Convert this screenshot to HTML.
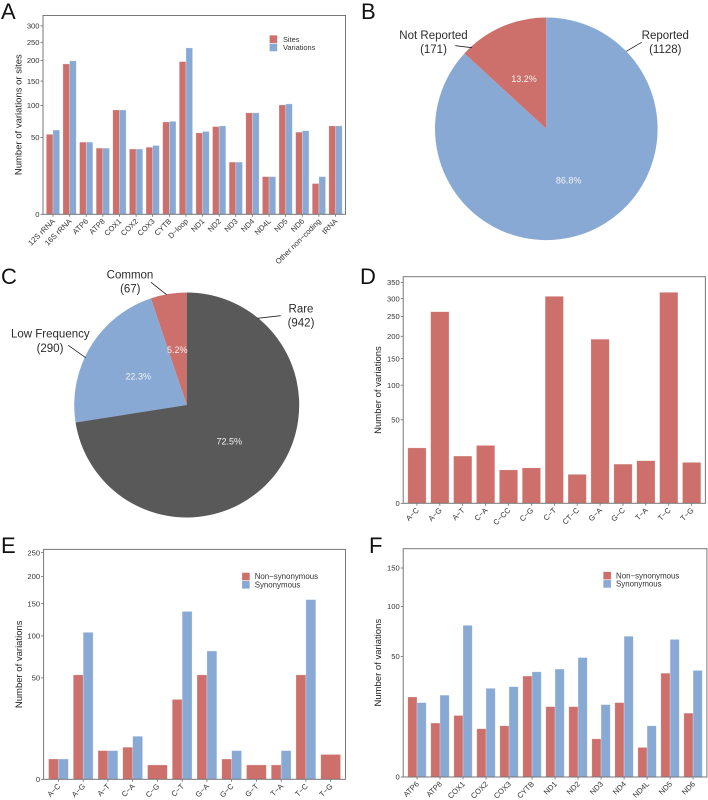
<!DOCTYPE html>
<html lang="en">
<head>
<meta charset="utf-8">
<title>Mitochondrial variation summary</title>
<style>
html,body{margin:0;padding:0;background:#fff;width:708px;height:800px;overflow:hidden}
svg{display:block;font-family:"Liberation Sans",Arial,sans-serif}
.panel{font-size:22px;fill:#111}
.pie-label{font-size:11.5px;fill:#2b2b2b;text-anchor:middle}
.pct{font-size:9px;fill:#f2f2f2;text-anchor:middle}
.leader{stroke:#222;stroke-width:.8;fill:none}
</style>
</head>
<body>
<svg id="fig" xmlns="http://www.w3.org/2000/svg" width="708" height="800" viewBox="0 0 708 800">
  <rect width="708" height="800" fill="#fff"/>
  <text class="panel" x="1" y="19">A</text>
  <text class="panel" x="361" y="19">B</text>
  <text class="panel" x="1" y="284">C</text>
  <text class="panel" x="360" y="284">D</text>
  <text class="panel" x="1" y="553">E</text>
  <text class="panel" x="369" y="553">F</text>
  <g id="pieB"></g>
  <g id="pieC"></g>
  <g>
    <path class="leader" d="M455.3 45.7L472 47.7"/>
    <path class="leader" d="M641.7 42.3L626.3 51.3"/>
    <text class="pie-label" x="433.5" y="39">Not Reported</text>
    <text class="pie-label" x="433.5" y="53">(171)</text>
    <text class="pie-label" x="665.3" y="39">Reported</text>
    <text class="pie-label" x="665.3" y="53">(1128)</text>
    <text class="pct" x="524" y="82">13.2%</text>
    <text class="pct" x="568.7" y="183.3">86.8%</text>
  </g>
  <g>
    <path class="leader" d="M151 282.3L166.7 294.7"/>
    <path class="leader" d="M280.7 315.7L257.3 318.3"/>
    <path class="leader" d="M68.3 345.3L85.7 357.7"/>
    <text class="pie-label" x="130" y="278.3">Common</text>
    <text class="pie-label" x="130.3" y="292.3">(67)</text>
    <text class="pie-label" x="301" y="312.3">Rare</text>
    <text class="pie-label" x="301" y="326.3">(942)</text>
    <text class="pie-label" x="50.3" y="337.7">Low Frequency</text>
    <text class="pie-label" x="50" y="352">(290)</text>
    <text class="pct" x="177.3" y="353">5.2%</text>
    <text class="pct" x="138.3" y="379.3">22.3%</text>
    <text class="pct" x="229.3" y="444.7">72.5%</text>
  </g>
  <g id="chartA"></g>
  <g id="chartD"></g>
  <g id="chartE"></g>
  <g id="chartF"></g>
</svg>
<script>
const RED = '#cd6f6a', BLUE = '#89a9d5', DARK = '#595959';

// Panel A
const regionCategories = ['12S rRNA','16S rRNA','ATP6','ATP8','COX1','COX2','COX3','CYTB','D\u2212loop','ND1','ND2','ND3','ND4','ND4L','ND5','ND6','Other non\u2212coding','tRNA'];
const regionSites = [54,191,44,37,92,36,38,72,197,56,65,23,87,12,101,57,8,66];
const regionVariations = [60,199,44,37,92,36,40,73,234,58,66,23,87,12,103,59,12,66];
const regionTicks = [0,50,100,150,200,250,300];

// Panel D
const substitutionCategoriesD = ['A\u2212C','A\u2212G','A\u2212T','C\u2212A','C\u2212CC','C\u2212G','C\u2212T','CT\u2212C','G\u2212A','G\u2212C','T\u2212A','T\u2212C','T\u2212G'];
const substitutionCountsD = [22,263,16,24,8,9,307,6,193,11,13,319,12];
const substitutionTicksD = [0,50,100,150,200,250,300,350];

// Panel E (null = single full-width bar)
const substitutionCategoriesE = ['A\u2212C','A\u2212G','A\u2212T','C\u2212A','C\u2212G','C\u2212T','G\u2212A','G\u2212C','G\u2212T','T\u2212A','T\u2212C','T\u2212G'];
const nonSynonymousE = [2,53,4,5,1,31,53,2,1,1,53,3];
const synonymousE = [2,105,4,9,null,137,80,4,null,4,157,null];
const ticksE = [0,50,100,150,200,250];

// Panel F
const geneCategories = ['ATP6','ATP8','COX1','COX2','COX3','CYTB','ND1','ND2','ND3','ND4','ND4L','ND5','ND6'];
const nonSynonymousF = [22,10,13,8,9,35,17,17,5,19,3,37,14];
const synonymousF = [19,23,79,27,28,38,40,49,18,68,9,65,39];
const ticksF = [0,50,100,150];

// Pies
const reportedLabels = ['Not Reported','Reported'];
const reportedCounts = [171,1128];
const frequencyLabels = ['Common','Low Frequency','Rare'];
const frequencyCounts = [67,290,942];

const NS = 'http://www.w3.org/2000/svg';
function mk(parent, tag, attrs, text) {
  const el = document.createElementNS(NS, tag);
  for (const k in attrs) el.setAttribute(k, attrs[k]);
  if (text !== undefined) el.textContent = text;
  parent.appendChild(el);
  return el;
}
function slug(s) {
  return String(s).toLowerCase().replace(/[^a-z0-9]+/g, '-');
}

function drawBars(root, cfg) {
  const left = cfg.left, right = cfg.right, top = cfg.top, bottom = cfg.bottom;
  const n = cfg.categories.length;
  const step = (right - left) / (n - 1 + 1.2);
  const xScale = i => left + step * (0.6 + i);
  const k = (bottom - top) / Math.sqrt(cfg.maxValue);
  const yScale = v => bottom - k * Math.sqrt(v);
  const groupW = step * 0.8;

  cfg.categories.forEach((cat, i) => {
    const cx = xScale(i);
    cfg.series.forEach((s, si) => {
      const v = s.values[i];
      if (v === null) return;
      const other = cfg.series.length > 1 ? cfg.series[1 - si].values[i] : null;
      const single = other === null;
      const w = single ? groupW : groupW / 2;
      const x = single ? cx - groupW / 2 : cx - groupW / 2 + si * w;
      const rect = mk(root, 'rect', {x: x, y: yScale(v), width: w, height: bottom - yScale(v), fill: s.color, stroke: '#fff', 'stroke-opacity': .4, 'stroke-width': .6});
      
      
    });
    const tick = mk(root, 'line', {x1: cx, x2: cx, y1: bottom, y2: bottom + 2.5, stroke: '#555', 'stroke-width': .7});
    
    
    const tx = cx + 2.5, ty = bottom + 7.5;
    const label = mk(root, 'text', {x: tx, y: ty, transform: 'rotate(-45 ' + tx + ' ' + ty + ')', 'text-anchor': 'end', 'font-size': cfg.tickSize, fill: '#333'}, cat);
    
    
  });

  cfg.ticks.forEach(t => {
    const y = yScale(t);
    const tick = mk(root, 'line', {x1: left - 2.5, x2: left, y1: y, y2: y, stroke: '#555', 'stroke-width': .7});
    
    
    const label = mk(root, 'text', {x: left - 3.5, y: y + 2.7, 'text-anchor': 'end', 'font-size': cfg.tickSize, fill: '#333'}, t);
    
    
  });

  const frame = mk(root, 'rect', {x: left, y: top, width: right - left, height: bottom - top, fill: 'none', stroke: '#777', 'stroke-width': 1});
  
  

  const title = mk(root, 'text', {x: cfg.titleX, y: cfg.titleY, transform: 'rotate(-90 ' + cfg.titleX + ' ' + cfg.titleY + ')', 'text-anchor': 'middle', 'dominant-baseline': 'middle', 'font-size': 9.5, fill: '#222'}, cfg.title);
  
  

  if (cfg.legend) {
    cfg.series.forEach((s, si) => {
      const yKey = cfg.legend.y + si * cfg.legend.gap;
      const key = mk(root, 'rect', {x: cfg.legend.x, y: yKey, width: 7.8, height: 7.8, fill: s.color, stroke: '#fff', 'stroke-opacity': .4, 'stroke-width': .5});
      
      
      const txt = mk(root, 'text', {x: cfg.legend.x + 12.7 + (cfg.legend.extra || 0), y: yKey + 6.6, 'font-size': cfg.legend.size, fill: '#333'}, s.name);
      
      
    });
  }
}

function drawPie(root, labels, counts, colors, cx, cy, r) {
  const total = counts.reduce((a, b) => a + b, 0);
  let cum = 0;
  counts.forEach((c, i) => {
    const a0 = -cum / total * 2 * Math.PI;
    cum += c;
    const a1 = -cum / total * 2 * Math.PI;
    const x0 = cx + r * Math.sin(a0), y0 = cy - r * Math.cos(a0);
    const x1 = cx + r * Math.sin(a1), y1 = cy - r * Math.cos(a1);
    const large = (a0 - a1) > Math.PI ? 1 : 0;
    const slice = mk(root, 'path', {d: 'M' + cx + ' ' + cy + 'L' + x0 + ' ' + y0 + 'A' + r + ' ' + r + ' 0 ' + large + ' 0 ' + x1 + ' ' + y1 + 'Z', fill: colors[i]});
    
    
  });
}

drawPie(document.getElementById('pieB'), reportedLabels, reportedCounts, [RED, BLUE], 546.3, 128.8, 111.3);
drawPie(document.getElementById('pieC'), frequencyLabels, frequencyCounts, [RED, BLUE, DARK], 186.7, 405, 112.5);

drawBars(document.getElementById('chartA'), {
  left: 43, right: 345.5, top: 15.5, bottom: 214.3, maxValue: 334,
  categories: regionCategories,
  series: [{name: 'Sites', color: RED, values: regionSites}, {name: 'Variations', color: BLUE, values: regionVariations}],
  ticks: regionTicks, tickSize: 7.6, title: 'Number of variations or sites', titleX: 19, titleY: 114.7,
  legend: {x: 269.5, y: 35.3, gap: 8.3, size: 7.4, extra: 0.8}
});
drawBars(document.getElementById('chartD'), {
  left: 403.2, right: 705.4, top: 276.7, bottom: 503.3, maxValue: 368,
  categories: substitutionCategoriesD,
  series: [{name: 'Variations', color: RED, values: substitutionCountsD}],
  ticks: substitutionTicksD, tickSize: 7.6, title: 'Number of variations', titleX: 378.7, titleY: 390
});
drawBars(document.getElementById('chartE'), {
  left: 43.6, right: 345.5, top: 549.4, bottom: 779.3, maxValue: 257,
  categories: substitutionCategoriesE,
  series: [{name: 'Non\u2212synonymous', color: RED, values: nonSynonymousE}, {name: 'Synonymous', color: BLUE, values: synonymousE}],
  ticks: ticksE, tickSize: 7.6, title: 'Number of variations', titleX: 19.3, titleY: 664.3,
  legend: {x: 242, y: 572.6, gap: 8.3, size: 7.9}
});
drawBars(document.getElementById('chartF'), {
  left: 403.2, right: 706.9, top: 548.7, bottom: 777, maxValue: 179,
  categories: geneCategories,
  series: [{name: 'Non\u2212synonymous', color: RED, values: nonSynonymousF}, {name: 'Synonymous', color: BLUE, values: synonymousF}],
  ticks: ticksF, tickSize: 7.6, title: 'Number of variations', titleX: 378.7, titleY: 662.7,
  legend: {x: 603.3, y: 571.7, gap: 8.3, size: 7.9}
});
</script>
</body>
</html>
